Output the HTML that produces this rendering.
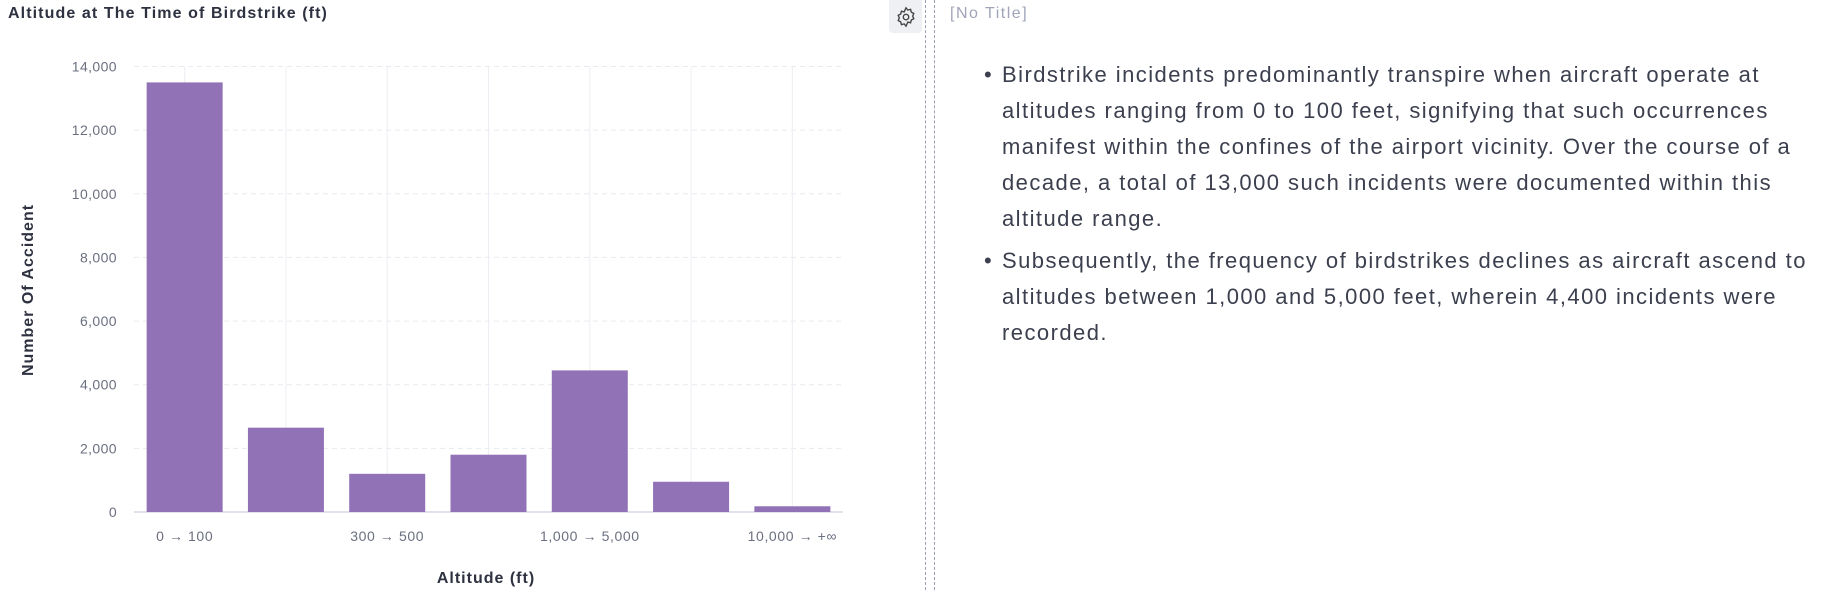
<!DOCTYPE html>
<html><head><meta charset="utf-8"><style>
body{margin:0;width:1830px;height:590px;background:#fff;font-family:"Liberation Sans",sans-serif;overflow:hidden;position:relative;color:#3b3f4e}
.abs{position:absolute}
.ln{white-space:nowrap;height:36px;line-height:36px}
</style></head><body>
<div class="abs" style="left:8px;top:5px;font-size:16px;letter-spacing:1.1px;font-weight:bold;color:#2e3240">Altitude at The Time of Birdstrike (ft)</div>
<svg class="abs" style="left:0;top:0" width="880" height="590">
<g id="grid"></g><g id="bars"></g><g id="labels"></g>
<text x="33" y="290" transform="rotate(-90 33 290)" text-anchor="middle" font-size="16" letter-spacing="1" font-weight="bold" fill="#2e3240" font-family="Liberation Sans">Number Of Accident</text>
<text x="486" y="583" text-anchor="middle" font-size="16" letter-spacing="1" font-weight="bold" fill="#2e3240" font-family="Liberation Sans">Altitude (ft)</text>
</svg>
<div class="abs" style="left:889px;top:0;width:33px;height:33px;background:#eef0f3;border-radius:0 0 4px 4px;display:flex;align-items:center;justify-content:center">
<svg width="22" height="22" viewBox="0 0 24 24" fill="none" stroke="#444" stroke-width="1.5"><circle cx="12" cy="12" r="3"/><path d="M12 2l2 2.5 3-.8.8 3 2.7 1.4-1.2 2.9 1.2 2.9-2.7 1.4-.8 3-3-.8L12 22l-2-2.5-3 .8-.8-3-2.7-1.4 1.2-2.9-1.2-2.9 2.7-1.4.8-3 3 .8z"/></svg></div>
<div class="abs" style="left:925px;top:0;width:8px;height:590px;border-left:1px dashed #9aa0b0;border-right:1px dashed #9aa0b0"></div>
<div class="abs" style="left:950px;top:5px;font-size:16px;letter-spacing:1.5px;color:#a0a4b8">[No Title]</div>
<div class="abs" style="left:1002px;top:57px;font-size:22px;letter-spacing:1.45px;color:#3b3f4e">
<div style="position:relative"><span style="position:absolute;left:-18px;top:0;line-height:36px">•</span>
<div class="ln">Birdstrike incidents predominantly transpire when aircraft operate at</div>
<div class="ln">altitudes ranging from 0 to 100 feet, signifying that such occurrences</div>
<div class="ln">manifest within the confines of the airport vicinity. Over the course of a</div>
<div class="ln">decade, a total of 13,000 such incidents were documented within this</div>
<div class="ln">altitude range.</div></div>
<div style="position:relative;margin-top:6px"><span style="position:absolute;left:-18px;top:0;line-height:36px">•</span>
<div class="ln">Subsequently, the frequency of birdstrikes declines as aircraft ascend to</div>
<div class="ln">altitudes between 1,000 and 5,000 feet, wherein 4,400 incidents were</div>
<div class="ln">recorded.</div></div>
</div>
<script>
const categories=["0 → 100","100 → 300","300 → 500","500 → 1,000","1,000 → 5,000","5,000 → 10,000","10,000 → +∞"];
const values=[13500,2650,1200,1800,4450,950,180];
const yTicks=[0,2000,4000,6000,8000,10000,12000,14000];
const shownX=[0,2,4,6];
const NS="http://www.w3.org/2000/svg";
const L=134,R=843,T=66.5,B=512,yMax=14000;
const step=(R-L)/categories.length;
const xC=i=>L+step*(i+0.5);
const y=v=>B-(v/yMax)*(B-T);
function mk(t,a,p){const e=document.createElementNS(NS,t);for(const k in a)e.setAttribute(k,a[k]);p.appendChild(e);return e;}
const g=document.getElementById('grid'),bg=document.getElementById('bars'),lg=document.getElementById('labels');
yTicks.forEach(v=>{
 const l=mk('line',{x1:L,x2:R,y1:y(v),y2:y(v),stroke:v===0?'#dfe2ea':'#e8eaf0','stroke-width':v===0?2:1,'stroke-dasharray':v===0?'':'5,4'},g);
 
 
 const t=mk('text',{x:117,y:y(v)+5,'text-anchor':'end','font-size':14,'letter-spacing':0.4,fill:'#6b6f80','font-family':'Liberation Sans'},lg);
 t.textContent=v.toLocaleString('en-US');
 
 
});
categories.forEach((c,i)=>{
 const l=mk('line',{x1:xC(i),x2:xC(i),y1:T,y2:B,stroke:'#eceef3','stroke-width':1},g);
 
 
 const w=76;
 const r=mk('rect',{x:xC(i)-w/2,y:y(values[i]),width:w,height:B-y(values[i]),fill:'#9272b6'},bg);
 
 
 if(shownX.includes(i)){
  const t=mk('text',{x:xC(i),y:541,'text-anchor':'middle','font-size':14,'letter-spacing':0.6,fill:'#6b6f80','font-family':'Liberation Sans'},lg);
  t.textContent=c;
  
  
 }
});
</script>
</body></html>
